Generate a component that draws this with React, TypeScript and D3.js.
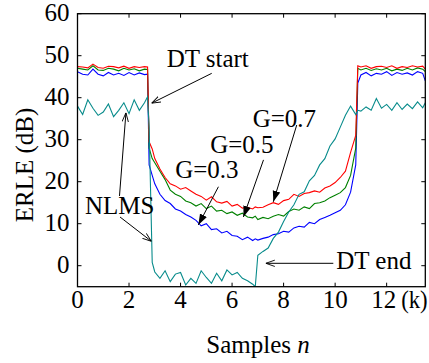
import { scaleLinear, line } from 'd3';

const width = 429;
const height = 363;
const margin = { top: 13.7, right: 3.7, bottom: 76.3, left: 77.5 };
const innerWidth = width - margin.left - margin.right;
const innerHeight = height - margin.top - margin.bottom;
const font = 'Liberation Serif';
const fontSize = 25;

// samples (k)
const samplesK = [
  0, 0.2, 0.4, 0.6, 0.8, 1.0, 1.2, 1.4, 1.6, 1.8, 2.0, 2.2, 2.4, 2.6,
  2.72, 2.78, 2.9,
  3.0, 3.2, 3.4, 3.6, 3.8, 4.0, 4.2, 4.4, 4.6, 4.8, 5.0, 5.2, 5.4, 5.6, 5.8, 6.0, 6.2, 6.4, 6.6, 6.8,
  6.9,
  7.0, 7.2, 7.4, 7.6, 7.8, 8.0, 8.2, 8.4, 8.6, 8.8, 9.0, 9.2, 9.4, 9.6, 9.8, 10.0, 10.2, 10.4, 10.6,
  10.8, 10.88,
  11.0, 11.2, 11.4, 11.6, 11.8, 12.0, 12.2, 12.4, 12.6, 12.8, 13.0, 13.2, 13.4, 13.5,
];

const erleG07 = [
  47.4, 47.3, 47.1, 48.0, 47.2, 47.0, 47.5, 47.4, 47.1, 47.5, 47.0, 47.4, 47.2, 47.4,
  47.3, 29.5, 27.8,
  25.5, 23.0, 21.0, 19.5, 19.0, 18.2, 18.6, 17.8, 17.0, 16.5, 15.6, 16.4, 15.2, 14.9, 15.3, 14.2, 14.6, 13.7, 13.9, 13.5,
  14.0,
  13.8, 13.9, 14.5, 15.0, 14.6, 15.5, 15.8, 17.0, 16.5, 17.2, 17.4, 17.8, 17.5, 18.5, 19.0, 19.8, 21.0, 22.5, 27.0,
  31.0, 47.6,
  47.3, 47.6, 47.0, 47.4, 47.5, 47.2, 47.6, 47.0, 47.4, 47.2, 47.6, 47.3, 47.5, 46.8,
];

const erleG05 = [
  47.0, 46.8, 46.6, 47.6, 46.6, 46.5, 47.0, 46.8, 46.4, 47.0, 46.6, 46.9, 46.4, 46.8,
  46.7, 28.0, 25.5,
  24.5, 22.5, 20.5, 18.0, 17.0, 16.5, 15.4, 15.0, 14.2, 14.8, 13.6, 14.2, 13.0, 13.2, 12.4, 12.8, 12.0, 12.5, 11.6, 11.4,
  11.8,
  11.0, 11.5, 11.2, 11.8, 12.2, 11.8, 12.9, 13.5, 13.2, 14.0, 13.6, 14.8, 15.0, 15.4, 16.2, 16.8, 17.4, 18.6, 21.5,
  28.0, 47.0,
  46.6, 47.0, 46.5, 46.9, 46.6, 47.0, 46.4, 46.8, 46.5, 47.0, 46.6, 47.1, 46.8, 46.2,
];

const erleG03 = [
  46.2, 45.6, 45.4, 46.8, 45.6, 45.2, 46.0, 45.4, 45.8, 45.3, 46.0, 45.4, 45.9, 45.5,
  45.6, 24.0, 21.5,
  19.5, 17.0, 15.5, 14.8, 13.5, 13.0, 12.2, 11.6, 10.8, 9.5, 10.0, 8.6, 8.8, 7.8, 8.2, 7.2, 7.0, 6.2, 6.8, 6.0,
  6.4,
  6.1, 6.5, 6.8, 7.4, 7.6, 8.2, 8.0, 9.0, 9.4, 9.2, 10.3, 10.0, 11.0, 11.5, 12.0, 12.6, 13.2, 14.5, 17.5,
  24.0, 43.5,
  45.4, 46.0, 45.2, 45.8, 45.6, 46.2, 45.3, 46.0, 45.6, 45.9, 45.4, 46.2, 45.8, 44.0,
];

const erleNLMS = [
  38.0, 36.0, 39.5, 37.5, 35.8, 36.6, 38.5, 35.5, 37.0, 38.8, 36.2, 39.5, 37.0, 38.8,
  40.2, 33.0, 0.8,
  -1.5, -3.0, -1.2, -3.8, -2.0, -1.6, -4.6, -3.0, -4.2, -1.2, -2.8, -4.2, -1.8, -3.6, -1.0, -2.2, -1.6, -3.0, -3.6, -4.4,
  -5.0,
  2.5, 3.4, 4.2, 6.5, 8.0, 10.5, 12.8, 14.5, 17.0, 17.6, 20.2, 21.5, 24.0, 25.5, 28.5, 30.2, 33.0, 35.8, 38.0,
  36.0, 37.0,
  36.8, 37.8, 37.0, 39.8, 37.5, 38.4, 37.0, 38.8, 37.2, 38.5, 37.4, 39.0, 37.6, 38.8,
];

const seriesNames = ['G=0.3', 'G=0.5', 'G=0.7', 'NLMS'];
const seriesValues = [erleG03, erleG05, erleG07, erleNLMS];
const seriesColors = ['#0000ff', '#008000', '#ff0000', '#078b8b'];

const xTicks = [0, 2, 4, 6, 8, 10, 12];
const yTicks = [0, 10, 20, 30, 40, 50, 60];

// annotations in data units: text position, arrow start, arrow tip
const labelTexts = ['DT start', 'G=0.7', 'G=0.5', 'G=0.3', 'NLMS', 'DT end'];
const labelAt = [[3.46, 47.4], [6.8, 33.1], [5.15, 26.9], [3.79, 20.8], [0.29, 12.2], [10.04, -0.86]];
const arrowFrom = [[5.21, 45.8], [8.51, 33.5], [7.22, 25.2], [5.47, 18.8], [1.65, 11.6], [1.63, 16.6], [9.93, 0.57]];
const arrowTo = [[2.88, 38.7], [7.6, 15.2], [6.44, 11.6], [4.69, 9.7], [2.87, 5.8], [1.88, 36.4], [7.31, 0.57]];
const arrowFilled = [false, true, true, true, false, false, false];

function App() {
  const xScale = scaleLinear().domain([0, 13.5]).range([0, innerWidth]);
  const yScale = scaleLinear().domain([-5, 60]).range([innerHeight, 0]);
  const path = line<number>()
    .x((_, i) => xScale(samplesK[i]))
    .y((d) => yScale(d));
  const txt = { fontFamily: font, fontSize: fontSize };

  return (
    <svg
      width={width}
      height={height}
      style={{ position: 'absolute', left: 0, top: 0, background: '#fff' }}
    >
      <defs>
        <clipPath id="plot">
          <rect x={0} y={0} width={innerWidth} height={innerHeight} />
        </clipPath>
        <marker id="open" viewBox="0 0 10 10" refX={10} refY={5} markerWidth={9} markerHeight={9} orient="auto" markerUnits="userSpaceOnUse">
          <path d="M0,1.5 L10,5 L0,8.5" fill="none" stroke="#000" strokeWidth={1} />
        </marker>
        <marker id="filled" viewBox="0 0 10 10" refX={10} refY={5} markerWidth={11} markerHeight={11} orient="auto" markerUnits="userSpaceOnUse">
          <path d="M0,1.5 L10,5 L0,8.5 Z" fill="#000" />
        </marker>
      </defs>
      <g transform={`translate(${margin.left},${margin.top})`}>
        <g clipPath="url(#plot)">
          {seriesValues.map((vals, i) => (
            <path key={seriesNames[i]} d={path(vals) || ''} fill="none" stroke={seriesColors[i]} strokeWidth={1.1} />
          ))}
        </g>
        {/* frame */}
        <rect x={0} y={0} width={innerWidth} height={innerHeight} fill="none" stroke="#000" strokeWidth={1.3} />
        {xTicks.map((t) => (
          <g key={'x' + t}>
            <line x1={xScale(t)} x2={xScale(t)} y1={innerHeight} y2={innerHeight - 4} stroke="#000" />
            <line x1={xScale(t)} x2={xScale(t)} y1={0} y2={4} stroke="#000" />
            <text x={t === 12 ? xScale(t) - 3 : xScale(t)} y={innerHeight + 21.7} textAnchor="middle" style={txt}>
              {t}
            </text>
          </g>
        ))}
        <text x={xScale(12) + 14.5} y={innerHeight + 21.7} style={txt} textLength={26.5} lengthAdjust="spacingAndGlyphs">
          (k)
        </text>
        {yTicks.map((t) => (
          <g key={'y' + t}>
            <line x1={0} x2={4} y1={yScale(t)} y2={yScale(t)} stroke="#000" />
            <line x1={innerWidth} x2={innerWidth - 4} y1={yScale(t)} y2={yScale(t)} stroke="#000" />
            <text x={-8} y={yScale(t) + 7} textAnchor="end" style={txt}>
              {t}
            </text>
          </g>
        ))}
        {arrowFrom.map((p, i) => (
          <line
            key={'a' + i}
            x1={xScale(p[0])}
            y1={yScale(p[1])}
            x2={xScale(arrowTo[i][0])}
            y2={yScale(arrowTo[i][1])}
            stroke="#000"
            strokeWidth={1}
            markerEnd={arrowFilled[i] ? 'url(#filled)' : 'url(#open)'}
          />
        ))}
        {labelTexts.map((s, i) => (
          <text key={s} x={xScale(labelAt[i][0])} y={yScale(labelAt[i][1])} style={txt}>
            {s}
          </text>
        ))}
      </g>
      <text x={258} y={353} textAnchor="middle" style={txt}>
        Samples <tspan fontStyle="italic">n</tspan>
      </text>
      <text transform="translate(33,165) rotate(-90)" textAnchor="middle" style={txt}>
        ERLE (dB)
      </text>
    </svg>
  );
}

export default App;
